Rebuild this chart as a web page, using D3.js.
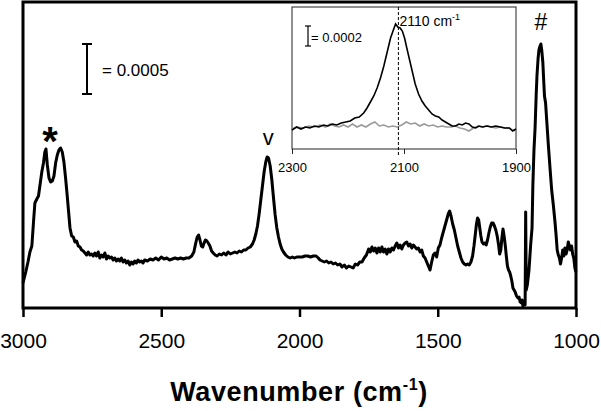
<!DOCTYPE html>
<html>
<head>
<meta charset="utf-8">
<script src="https://cdn.jsdelivr.net/npm/d3@7"></script>
<style>
  body { margin: 0; background: #fff; }
  text { font-family: "Liberation Sans", Arial, sans-serif; fill: #000; }
</style>
</head>
<body>
<div id="chart"></div>
<script>
// main spectrum (wavenumber in cm-1, absorbance)
var mainWavenumber = [
  3000, 2990, 2982, 2975, 2968, 2962, 2957, 2950, 2944, 2938, 2932, 2926, 2921, 2917, 2912, 2906, 2900, 2894, 2888, 2882,
  2876, 2870, 2864, 2858, 2852, 2846, 2840, 2835, 2830, 2824, 2818, 2812, 2806, 2800, 2794, 2788, 2782, 2776, 2770, 2764,
  2758, 2752, 2746, 2740, 2734, 2728, 2722, 2716, 2710, 2704, 2698, 2692, 2686, 2680, 2674, 2668, 2662, 2656, 2650, 2644,
  2638, 2632, 2626, 2620, 2614, 2608, 2602, 2596, 2590, 2584, 2578, 2572, 2566, 2560, 2550, 2540, 2530, 2520, 2510, 2500,
  2490, 2480, 2470, 2460, 2450, 2440, 2430, 2420, 2410, 2400, 2390, 2382, 2376, 2370, 2365, 2360, 2355, 2350, 2345, 2340,
  2335, 2330, 2324, 2318, 2312, 2305, 2298, 2290, 2282, 2274, 2266, 2258, 2250, 2242, 2234, 2226, 2218, 2210, 2202, 2194,
  2186, 2178, 2170, 2164, 2158, 2152, 2146, 2140, 2134, 2128, 2122, 2117, 2112, 2106, 2100, 2094, 2088, 2082, 2076, 2070,
  2064, 2058, 2050, 2042, 2034, 2026, 2018, 2010, 2000, 1990, 1980, 1970, 1960, 1950, 1940, 1932, 1926, 1918, 1910, 1902,
  1894, 1886, 1878, 1870, 1862, 1854, 1846, 1838, 1830, 1822, 1814, 1806, 1798, 1790, 1782, 1774, 1766, 1758, 1750, 1744,
  1738, 1732, 1726, 1720, 1714, 1708, 1702, 1696, 1690, 1684, 1678, 1672, 1666, 1660, 1654, 1648, 1642, 1636, 1630, 1624,
  1618, 1612, 1606, 1600, 1594, 1588, 1582, 1576, 1570, 1564, 1558, 1552, 1546, 1540, 1534, 1528, 1522, 1516, 1510, 1504,
  1498, 1492, 1486, 1480, 1474, 1468, 1462, 1457, 1452, 1446, 1440, 1434, 1428, 1422, 1416, 1410, 1404, 1398, 1392, 1386,
  1380, 1374, 1369, 1364, 1360, 1356, 1352, 1348, 1344, 1340, 1335, 1330, 1325, 1320, 1315, 1310, 1305, 1300, 1295, 1290,
  1285, 1280, 1276, 1272, 1268, 1264, 1260, 1256, 1252, 1248, 1244, 1240, 1236, 1232, 1228, 1224, 1220, 1215, 1210, 1206,
  1202, 1198, 1195, 1192, 1188, 1184, 1182, 1180, 1176, 1170, 1164, 1159, 1156, 1152, 1148, 1144, 1141, 1137, 1134, 1130,
  1127, 1124, 1120, 1116, 1114, 1110, 1106, 1100, 1094, 1088, 1082, 1076, 1072, 1068, 1064, 1060, 1056, 1052, 1048, 1044,
  1040, 1036, 1032, 1028, 1024, 1020, 1016, 1012, 1008, 1004, 1000
];
var mainAbsorbance = [
  0.00025, 0.00036, 0.00046, 0.00056, 0.00062, 0.00086, 0.00105, 0.00109, 0.00112, 0.00124, 0.00136, 0.00145, 0.00156, 0.00159, 0.00143, 0.00130, 0.00126, 0.00127, 0.00132, 0.00145,
  0.00153, 0.00158, 0.00160, 0.00156, 0.00146, 0.00130, 0.00112, 0.00096, 0.00080, 0.00072, 0.00071, 0.00066, 0.00067, 0.00062, 0.00061, 0.00058, 0.00057, 0.00055, 0.00053, 0.00056,
  0.00053, 0.00054, 0.00052, 0.00055, 0.00052, 0.00056, 0.00050, 0.00053, 0.00051, 0.00055, 0.00049, 0.00052, 0.00050, 0.00051, 0.00048, 0.00050, 0.00047, 0.00049, 0.00047, 0.00050,
  0.00046, 0.00048, 0.00045, 0.00047, 0.00043, 0.00046, 0.00044, 0.00047, 0.00045, 0.00048, 0.00046, 0.00047, 0.00045, 0.00048, 0.00047, 0.00049, 0.00048, 0.00050, 0.00048, 0.00051,
  0.00049, 0.00050, 0.00048, 0.00049, 0.00050, 0.00049, 0.00050, 0.00049, 0.00050, 0.00050, 0.00052, 0.00056, 0.00064, 0.00071, 0.00073, 0.00068, 0.00062, 0.00061, 0.00065, 0.00068,
  0.00067, 0.00065, 0.00062, 0.00057, 0.00055, 0.00053, 0.00052, 0.00054, 0.00053, 0.00055, 0.00053, 0.00056, 0.00054, 0.00055, 0.00056, 0.00055, 0.00057, 0.00056, 0.00058, 0.00058,
  0.00060, 0.00061, 0.00064, 0.00068, 0.00074, 0.00082, 0.00094, 0.00108, 0.00122, 0.00136, 0.00146, 0.00151, 0.00150, 0.00142, 0.00128, 0.00110, 0.00093, 0.00080, 0.00071, 0.00064,
  0.00059, 0.00056, 0.00053, 0.00051, 0.00050, 0.00051, 0.00050, 0.00051, 0.00051, 0.00051, 0.00052, 0.00052, 0.00051, 0.00052, 0.00052, 0.00050, 0.00048, 0.00047, 0.00046, 0.00047,
  0.00045, 0.00046, 0.00044, 0.00045, 0.00043, 0.00044, 0.00041, 0.00043, 0.00040, 0.00042, 0.00041, 0.00040, 0.00044, 0.00043, 0.00046, 0.00046, 0.00050, 0.00053, 0.00059, 0.00056,
  0.00061, 0.00057, 0.00060, 0.00055, 0.00060, 0.00056, 0.00061, 0.00056, 0.00059, 0.00054, 0.00059, 0.00056, 0.00060, 0.00058, 0.00062, 0.00065, 0.00060, 0.00063, 0.00059, 0.00063,
  0.00065, 0.00066, 0.00062, 0.00064, 0.00060, 0.00063, 0.00061, 0.00059, 0.00060, 0.00056, 0.00058, 0.00052, 0.00050, 0.00046, 0.00042, 0.00038, 0.00046, 0.00053, 0.00055, 0.00051,
  0.00060, 0.00063, 0.00070, 0.00076, 0.00082, 0.00088, 0.00094, 0.00097, 0.00092, 0.00084, 0.00078, 0.00070, 0.00062, 0.00056, 0.00050, 0.00046, 0.00044, 0.00043, 0.00044, 0.00043,
  0.00046, 0.00052, 0.00062, 0.00074, 0.00084, 0.00090, 0.00088, 0.00080, 0.00072, 0.00066, 0.00064, 0.00065, 0.00063, 0.00068, 0.00075, 0.00081, 0.00085, 0.00085, 0.00082, 0.00078,
  0.00072, 0.00063, 0.00054, 0.00058, 0.00070, 0.00079, 0.00072, 0.00063, 0.00052, 0.00042, 0.00038, 0.00036, 0.00032, 0.00027, 0.00020, 0.00018, 0.00016, 0.00012, 0.00010, 0.00011,
  0.00006, 0.00005, 0.00008, 0.00002, 0.00003, 0.00003, 0.00096, 0.00018, 0.00023, 0.00038, 0.00063, 0.00080, 0.00123, 0.00158, 0.00180, 0.00213, 0.00233, 0.00250, 0.00258, 0.00262,
  0.00264, 0.00258, 0.00246, 0.00223, 0.00212, 0.00205, 0.00188, 0.00163, 0.00140, 0.00118, 0.00103, 0.00086, 0.00073, 0.00058, 0.00053, 0.00050, 0.00044, 0.00050, 0.00058, 0.00052,
  0.00060, 0.00054, 0.00058, 0.00066, 0.00062, 0.00058, 0.00062, 0.00054, 0.00050, 0.00040, 0.00036
];

// inset: 2300-1900 cm-1 region, sample (black) and reference (grey)
var insetWavenumber = [
  2300, 2292, 2284, 2276, 2268, 2260, 2252, 2244, 2236, 2228, 2220, 2212, 2204, 2196, 2188, 2180, 2172, 2166, 2160, 2154,
  2148, 2142, 2136, 2130, 2124, 2119, 2115, 2111, 2107, 2103, 2099, 2095, 2090, 2085, 2080, 2074, 2068, 2062, 2056, 2050,
  2044, 2038, 2032, 2026, 2020, 2014, 2008, 2002, 1996, 1990, 1984, 1978, 1972, 1966, 1960, 1952, 1944, 1936, 1928, 1920,
  1912, 1906, 1900
];
var insetSample = [
  0.00019, 0.00022, 0.00020, 0.00022, 0.00021, 0.00023, 0.00022, 0.00024, 0.00023, 0.00025, 0.00024, 0.00026, 0.00027, 0.00028, 0.00031, 0.00032, 0.00036, 0.00041, 0.00047, 0.00053,
  0.00061, 0.00071, 0.00083, 0.00097, 0.00111, 0.00119, 0.00125, 0.00122, 0.00121, 0.00118, 0.00111, 0.00101, 0.00089, 0.00077, 0.00065, 0.00055, 0.00048, 0.00043, 0.00039, 0.00035,
  0.00033, 0.00032, 0.00029, 0.00027, 0.00025, 0.00023, 0.00023, 0.00025, 0.00024, 0.00026, 0.00025, 0.00022, 0.00021, 0.00023, 0.00022, 0.00023, 0.00022, 0.00023, 0.00022, 0.00021,
  0.00021, 0.00018, 0.00020
];
var insetRefWavenumber = [
  2300, 2290, 2280, 2270, 2260, 2250, 2240, 2232, 2224, 2216, 2208, 2200, 2192, 2184, 2176, 2168, 2160, 2152, 2144, 2136,
  2128, 2120, 2112, 2104, 2096, 2088, 2080, 2072, 2064, 2056, 2048, 2040, 2032, 2024, 2016, 2008, 2000, 1992, 1984, 1976,
  1968, 1960, 1952, 1944, 1936, 1928, 1920, 1912, 1906, 1900
];
var insetReference = [
  0.00020, 0.00022, 0.00021, 0.00023, 0.00022, 0.00024, 0.00022, 0.00025, 0.00023, 0.00022, 0.00024, 0.00022, 0.00025, 0.00022, 0.00024, 0.00022, 0.00025, 0.00027, 0.00023, 0.00024,
  0.00022, 0.00023, 0.00022, 0.00024, 0.00027, 0.00025, 0.00026, 0.00023, 0.00025, 0.00023, 0.00024, 0.00022, 0.00023, 0.00022, 0.00022, 0.00023, 0.00021, 0.00020, 0.00018, 0.00021,
  0.00023, 0.00022, 0.00023, 0.00022, 0.00021, 0.00022, 0.00021, 0.00021, 0.00019, 0.00018
];

var mainTicks = [3000, 2500, 2000, 1500, 1000];
var insetTicks = [2300, 2100, 1900];
var peakMarks = [
  {wn: 2890, label: "*"},
  {wn: 2113, label: "v"},
  {wn: 1127, label: "#"}
];

var width = 601, height = 411;

var svg = d3.select("#chart").append("svg")
  .attr("width", width)
  .attr("height", height);

// main plot scales
var x = d3.scaleLinear().domain([3000, 1000]).range([23, 576]);
var y = d3.scaleLinear().domain([0, 0.00306]).range([308, 2]);

var mainData = mainWavenumber.map(function(w, i) { return [w, mainAbsorbance[i]]; });

var line = d3.line()
  .x(function(d) { return x(d[0]); })
  .y(function(d) { return y(d[1]); });

svg.append("path")
  .datum(mainData)
  .attr("d", line)
  .attr("fill", "none")
  .attr("stroke", "#000")
  .attr("stroke-width", 3)
  .attr("stroke-linejoin", "round");

// frame
svg.append("rect")
  .attr("x", x(3000))
  .attr("y", y.range()[1])
  .attr("width", x(1000) - x(3000))
  .attr("height", y.range()[0] - y.range()[1])
  .attr("fill", "none")
  .attr("stroke", "#000")
  .attr("stroke-width", 3);

// x axis
var xAxis = svg.append("g")
  .attr("transform", "translate(0," + y.range()[0] + ")")
  .call(d3.axisBottom(x).tickValues(mainTicks).tickSize(9).tickSizeOuter(0).tickPadding(16).tickFormat(d3.format("d")));
xAxis.select(".domain").remove();
xAxis.selectAll(".tick line").attr("stroke", "#000").attr("stroke-width", 2.5);
xAxis.selectAll(".tick text")
  .style("font-family", "'Liberation Sans', Arial, sans-serif")
  .style("font-size", "21px")
  .attr("fill", "#000");

// axis title
var title = svg.append("text")
  .attr("x", 299)
  .attr("y", 401)
  .attr("text-anchor", "middle")
  .style("font-size", "27px")
  .style("font-weight", "bold")
  .style("letter-spacing", "0.6px");
title.append("tspan").text("Wavenumber (cm");
title.append("tspan").attr("dy", -11).style("font-size", "16px").text("-1");
title.append("tspan").attr("dy", 11).text(")");

// main scale bar (0.0005)
var barTop = 44, barX = 87;
var barLen = y(0) - y(0.0005);
var bar = svg.append("g").attr("stroke", "#000").attr("stroke-width", 2);
bar.append("line").attr("x1", barX).attr("x2", barX).attr("y1", barTop).attr("y2", barTop + barLen);
bar.append("line").attr("x1", barX - 5).attr("x2", barX + 5).attr("y1", barTop).attr("y2", barTop);
bar.append("line").attr("x1", barX - 5).attr("x2", barX + 5).attr("y1", barTop + barLen).attr("y2", barTop + barLen);
svg.append("text")
  .attr("x", 102).attr("y", 76)
  .style("font-size", "17px")
  .text("= 0.0005");

// peak markers
var markStyle = {"*": {size: 40, weight: "bold", dy: 155}, "v": {size: 22, weight: "normal", dy: 145}, "#": {size: 23, weight: "normal", dy: 30}};
svg.selectAll(".peak")
  .data(peakMarks)
  .enter().append("text")
  .attr("class", "peak")
  .attr("x", function(d) { return d.label == "*" ? 50 : x(d.wn); })
  .attr("y", function(d) { return markStyle[d.label].dy; })
  .attr("text-anchor", "middle")
  .style("font-size", function(d) { return markStyle[d.label].size + "px"; })
  .style("font-weight", function(d) { return markStyle[d.label].weight; })
  .text(function(d) { return d.label; });

// inset
var ix = d3.scaleLinear().domain([2300, 1900]).range([292, 516]);
var iy = d3.scaleLinear().domain([0, 0.00142]).range([149, 7]);

svg.append("rect")
  .attr("x", ix(2300)).attr("y", iy.range()[1])
  .attr("width", ix(1900) - ix(2300))
  .attr("height", iy.range()[0] - iy.range()[1])
  .attr("fill", "#fff")
  .attr("stroke", "#222")
  .attr("stroke-width", 1);

var iline = d3.line()
  .x(function(d) { return ix(d[0]); })
  .y(function(d) { return iy(d[1]); });

svg.append("path")
  .datum(insetRefWavenumber.map(function(w, i) { return [w, insetReference[i]]; }))
  .attr("d", iline)
  .attr("fill", "none")
  .attr("stroke", "#9a9a9a")
  .attr("stroke-width", 1.6);

svg.append("path")
  .datum(insetWavenumber.map(function(w, i) { return [w, insetSample[i]]; }))
  .attr("d", iline)
  .attr("fill", "none")
  .attr("stroke", "#000")
  .attr("stroke-width", 1.6);

// dashed marker at 2110
svg.append("line")
  .attr("x1", ix(2110)).attr("x2", ix(2110))
  .attr("y1", iy.range()[1]).attr("y2", iy.range()[0] + 6)
  .attr("stroke", "#000")
  .attr("stroke-width", 1)
  .attr("stroke-dasharray", "3,2");

var peakLabel = svg.append("text")
  .attr("x", ix(2110) + 1).attr("y", 26)
  .style("font-size", "14px");
peakLabel.append("tspan").text("2110 cm");
peakLabel.append("tspan").attr("dy", -6).style("font-size", "9px").text("-1");

var insetAxis = svg.append("g")
  .attr("transform", "translate(0," + iy.range()[0] + ")")
  .call(d3.axisBottom(ix).tickValues(insetTicks).tickSize(5).tickSizeOuter(0).tickPadding(9).tickFormat(d3.format("d")));
insetAxis.select(".domain").remove();
insetAxis.selectAll(".tick line").attr("stroke", "#222").attr("stroke-width", 1);
insetAxis.selectAll(".tick text")
  .style("font-family", "'Liberation Sans', Arial, sans-serif")
  .style("font-size", "13px")
  .attr("fill", "#000");

// inset scale bar (0.0002)
var ibTop = 26, ibX = 308;
var ibLen = iy(0) - iy(0.0002);
var ibar = svg.append("g").attr("stroke", "#000").attr("stroke-width", 1.2);
ibar.append("line").attr("x1", ibX).attr("x2", ibX).attr("y1", ibTop).attr("y2", ibTop + ibLen);
ibar.append("line").attr("x1", ibX - 3).attr("x2", ibX + 3).attr("y1", ibTop).attr("y2", ibTop);
ibar.append("line").attr("x1", ibX - 3).attr("x2", ibX + 3).attr("y1", ibTop + ibLen).attr("y2", ibTop + ibLen);
svg.append("text")
  .attr("x", 311).attr("y", 42)
  .style("font-size", "13px")
  .text("= 0.0002");
</script>
</body>
</html>
